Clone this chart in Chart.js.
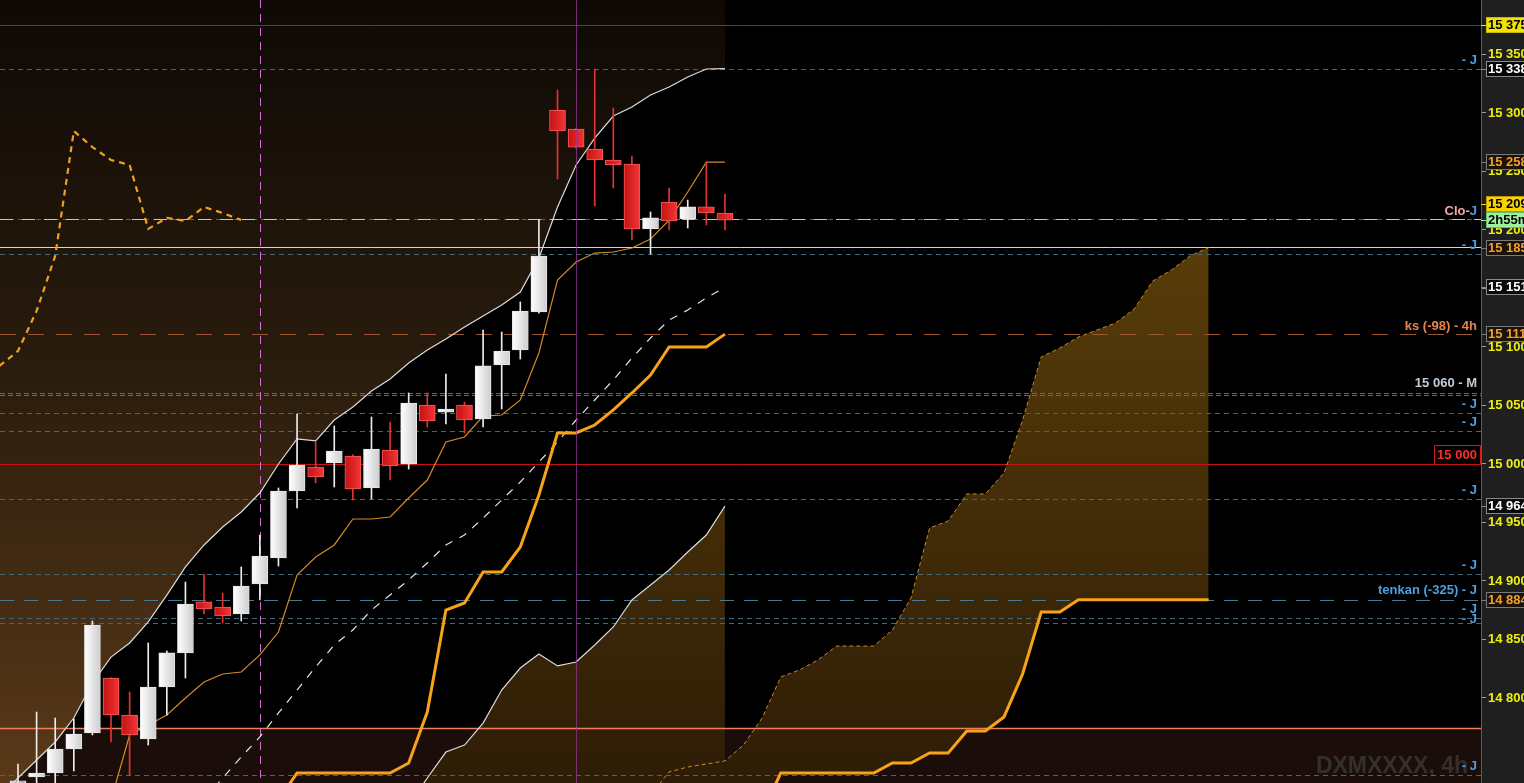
<!DOCTYPE html>
<html><head><meta charset="utf-8">
<style>html,body{margin:0;padding:0;background:#000;overflow:hidden}canvas{display:block}</style>
<script src="https://cdn.jsdelivr.net/npm/chart.js@4.4.1/dist/chart.umd.min.js"></script>
</head><body>
<canvas id="c" width="1524" height="783"></canvas>
<script>
// ---- candles (4h), index 0..38 ----
const opens  = [14727.4,14732.5,14735.9,14756.4,14770.1,14817.1,14785.5,14765.0,14809.4,14838.5,14882.1,14877.8,14871.8,14897.4,14919.7,14976.9,14997.4,15000.9,15006.8,14979.5,15012.0,15000.0,15050.4,15044.4,15050.4,15038.5,15084.6,15097.4,15129.9,15302.6,15286.3,15269.2,15259.8,15256.4,15200.9,15223.9,15209.4,15219.7,15214.5];
const highs  = [14743.6,14788.0,14782.9,14782.1,14865.8,14817.5,14805.1,14847.0,14840.2,14899.1,14906.0,14889.7,14912.0,14939.3,14979.5,15042.7,15018.8,15032.5,15008.0,15040.2,15035.9,15060.7,15060.7,15076.9,15053.0,15114.5,15112.8,15138.5,15208.5,15319.7,15287.0,15337.6,15304.3,15263.2,15215.4,15235.9,15225.6,15258.1,15230.8];
const lows   = [14715.0,14720.0,14725.0,14737.6,14768.4,14762.4,14734.2,14759.8,14785.5,14817.1,14871.8,14864.1,14865.8,14883.8,14912.8,14962.4,14983.8,14980.3,14969.2,14970.1,14986.3,14995.7,15031.6,15034.2,15026.5,15031.6,15047.0,15089.7,15129.0,15243.6,15270.0,15220.5,15235.9,15191.5,15179.5,15200.0,15201.7,15204.3,15200.0];
const closes = [14729.1,14735.9,14756.4,14769.2,14862.4,14785.5,14768.4,14809.4,14838.5,14880.3,14876.1,14870.1,14895.7,14921.4,14976.9,14999.1,14988.9,15011.1,14978.6,15012.8,14998.3,15052.1,15036.8,15047.0,15037.6,15083.8,15096.6,15130.8,15177.8,15284.6,15270.9,15259.8,15255.6,15200.9,15210.3,15207.7,15219.7,15214.5,15208.5];

// ---- indicator series (start index, values) ----
const upperStart = -1;
const upperBand = [14715.4,14731.6,14747.0,14762.4,14782.9,14812.8,14835.0,14847.0,14865.0,14888.0,14912.0,14930.8,14946.2,14959.0,14975.2,15000.0,15021.4,15019.7,15037.6,15048.7,15062.4,15072.6,15086.3,15097.4,15106.8,15117.1,15126.5,15135.9,15147.0,15176.1,15219.7,15255.6,15278.6,15297.4,15305.1,15315.4,15322.2,15330.8,15337.6,15338.0];
const midStart = 10;
const midBand = [14712.8,14731.6,14749.6,14766.7,14787.2,14806.8,14826.5,14845.3,14858.1,14875.2,14888.0,14900.9,14915.4,14930.8,14939.3,14953.8,14969.2,14984.6,15001.7,15018.8,15037.6,15054.7,15071.8,15090.6,15107.7,15123.1,15131.6,15141.9,15151.0];
const lowerStart = 21;
const lowerBand = [14708.5,14731.6,14753.8,14759.8,14778.6,14806.8,14825.6,14837.6,14827.4,14830.8,14845.3,14860.7,14883.8,14896.6,14909.4,14924.8,14939.3,14964.0];
const kijunStart = 14;
const kijun = [14712.8,14735.9,14735.9,14735.9,14735.9,14735.9,14735.9,14744.4,14788.0,14875.2,14881.2,14907.7,14907.7,14929.1,14973.5,15026.5,15026.5,15033.3,15046.2,15060.7,15076.1,15100.0,15100.0,15100.0,15111.0];
const tenkanStart = 5;
const tenkan = [14712.8,14768.4,14776.9,14785.5,14800.0,14813.7,14820.5,14822.2,14836.8,14856.4,14905.1,14920.5,14930.8,14953.0,14953.0,14954.7,14970.9,14986.3,15018.8,15023.1,15041.0,15041.9,15054.7,15094.9,15157.3,15172.6,15180.3,15181.2,15184.6,15192.3,15208.5,15232.5,15258.0,15258.0];
const spanStart = 34;
const spanA = [14717.1,14736.8,14741.0,14743.6,14746.2,14759.8,14782.9,14818.0,14823.9,14832.5,14844.4,14844.4,14844.4,14858.1,14885.5,14945.3,14951.3,14974.4,14974.4,14992.3,15037.6,15091.5,15099.1,15108.5,15114.5,15120.5,15132.5,15156.4,15165.8,15177.8,15185.0];
const spanB = [14680,14680,14680,14680,14680,14685,14701.7,14735.9,14735.9,14735.9,14735.9,14735.9,14735.9,14744.4,14744.4,14753.0,14753.0,14771.8,14771.8,14783.8,14820.5,14873.5,14873.5,14884,14884,14884,14884,14884,14884,14884,14884];
const chikouShift = 26;

// ---- levels ----
const jLevels = [15337.6, 15209.1, 15179.2, 15043.3, 15027.9, 14969.8, 14906.0, 14868.1, 14863.8, 14734.2];
const mLevels = [15060.9, 15059.0];
const closeLevel = 15209.1;
const whiteLevel = 15185.7;
const ksLevel = 15111;
const tenkanLevel = 14884;
const roundLevel = 15000;
const purpleLevel = 15375;
const zoneLevel = 14774.1;
const vLines = [13, 30];
const yTicks = [15400,15350,15300,15250,15200,15150,15100,15050,15000,14950,14900,14850,14800];
const axisMarks = [15375, 15338, 15258, 15185, 15151, 15111, 14964, 14884];
const countdown = '2h55m';
const watermark = 'DXMXXXX, 4h';

const X_MIN = -0.9675, X_MAX = 78.64, Y_MIN = 14727.35, Y_MAX = 15396.58;
const FONT = '"Liberation Sans", Arial, sans-serif';
const fmt = v => { const s = String(Math.round(v)); return s.slice(0, -3) + ' ' + s.slice(-3); };
const series = (start, arr) => arr.map((v, k) => ({x: start + k, y: v}));

const canvas = document.getElementById('c');
const g2 = canvas.getContext('2d');
const gradTop = g2.createLinearGradient(0, 0, 0, 783);
gradTop.addColorStop(0, 'rgb(14,9,5)');
gradTop.addColorStop(0.45, 'rgb(40,27,13)');
gradTop.addColorStop(1, 'rgb(90,57,24)');
const gradCloud = () => { const g = g2.createLinearGradient(0, 240, 0, 783); g.addColorStop(0, 'rgb(88,60,10)'); g.addColorStop(1, 'rgb(46,29,6)'); return g; };

const idx = opens.map((_, i) => i);
const isUp = i => closes[i] >= opens[i];

const bodyColor = ctx => {
  if (ctx.type !== 'data') return '#eee';
  const i = ctx.dataIndex, up = isUp(i);
  const xs = ctx.chart.scales && ctx.chart.scales.x;
  const px = xs ? xs.getPixelForValue(i) : NaN;
  if (!isFinite(px)) return up ? '#eee' : '#e02020';
  const g = ctx.chart.ctx.createLinearGradient(px - 8, 0, px + 8, 0);
  if (up) { g.addColorStop(0, '#ffffff'); g.addColorStop(1, '#cdcdcd'); }
  else { g.addColorStop(0, '#c41212'); g.addColorStop(1, '#f23636'); }
  return g;
};

const plugin = {
  id: 'deco',
  beforeDraw(chart) {
    const c = chart.ctx, a = chart.chartArea, y = chart.scales.y;
    c.save();
    c.fillStyle = '#000'; c.fillRect(0, 0, chart.width, chart.height);
    c.fillStyle = '#1f1f1f'; c.fillRect(a.right, 0, chart.width - a.right, chart.height);
    const zy = y.getPixelForValue(zoneLevel);
    c.fillStyle = '#1b0e0a'; c.fillRect(a.left, zy, a.right - a.left, a.bottom - zy);
    c.restore();
  },
  beforeDatasetsDraw(chart) {
    const c = chart.ctx, a = chart.chartArea, y = chart.scales.y, x = chart.scales.x;
    const hl = (v, color, w, dash) => {
      const py = Math.round(y.getPixelForValue(v)) + 0.5;
      c.save(); c.strokeStyle = color; c.lineWidth = w; c.setLineDash(dash || []);
      c.beginPath(); c.moveTo(a.left, py); c.lineTo(a.right, py); c.stroke(); c.restore();
    };
    c.save();
    c.beginPath(); c.rect(a.left, a.top, a.right - a.left, a.bottom - a.top); c.clip();
    c.font = 'bold 23px ' + FONT; c.fillStyle = '#33302d'; c.textAlign = 'right'; c.textBaseline = 'alphabetic';
    c.fillText(watermark, 1468, 773);
    hl(purpleLevel, '#6e2c6e', 1);
    jLevels.forEach(v => hl(v, '#41687b', 1, [5, 4]));
    mLevels.forEach(v => hl(v, '#4a6f82', 1, [5, 3]));
    hl(tenkanLevel, '#4a7892', 1, [14, 10]);
    hl(ksLevel, '#9a5732', 1, [16, 12]);
    hl(closeLevel, '#e6b6c0', 1, [13, 9]);
    hl(whiteLevel, '#d4d4d4', 1);
    hl(roundLevel, '#c81212', 1);
    hl(zoneLevel, '#ef8058', 1.5);
    const vx = Math.round(x.getPixelForValue(vLines[0])) + 0.5;
    c.strokeStyle = '#d46fd4'; c.lineWidth = 1; c.setLineDash([8, 6]);
    c.beginPath(); c.moveTo(vx, a.top); c.lineTo(vx, a.bottom); c.stroke();
    c.restore();
  },
  afterDatasetsDraw(chart) {
    const c = chart.ctx, a = chart.chartArea, x = chart.scales.x;
    const vx = Math.round(x.getPixelForValue(vLines[1])) + 0.5;
    c.save(); c.strokeStyle = 'rgba(150,55,150,0.75)'; c.lineWidth = 1;
    c.beginPath(); c.moveTo(vx, a.top); c.lineTo(vx, a.bottom); c.stroke(); c.restore();
  },
  afterDraw(chart) {
    const c = chart.ctx, a = chart.chartArea, y = chart.scales.y;
    const R = a.right - 4;
    c.save();
    c.font = 'bold 13px ' + FONT; c.textBaseline = 'middle'; c.textAlign = 'right';
    const lab = (v, txt, color, dy) => { c.fillStyle = color; c.fillText(txt, R, y.getPixelForValue(v) - (dy || 9)); };
    jLevels.forEach((v, k) => {
      if (v === closeLevel) return;
      lab(v, '- J', '#4a9fe2', k === jLevels.length - 2 ? 4 : 9);
    });
    const cy = y.getPixelForValue(closeLevel) - 8;
    c.fillStyle = '#4a9fe2'; c.fillText('J', R, cy);
    const jw = c.measureText('J').width;
    c.fillStyle = '#f0a4aa'; c.fillText('Clo-', R - jw, cy);
    lab(mLevels[0], fmt(mLevels[0] - 1) + ' - M', '#c2ccd6', 9);
    lab(ksLevel, 'ks (-98) - 4h', '#e6844a', 8);
    lab(tenkanLevel, 'tenkan (-325) - J', '#4a9fe2', 9);
    const ry = Math.round(y.getPixelForValue(roundLevel));
    c.strokeStyle = '#d81818'; c.lineWidth = 1;
    c.beginPath(); c.moveTo(1434.5, ry); c.lineTo(1434.5, ry - 18.5); c.lineTo(a.right - 0.5, ry - 18.5); c.lineTo(a.right - 0.5, ry); c.stroke();
    c.fillStyle = '#ff2a2a'; c.textAlign = 'center'; c.fillText(fmt(roundLevel), 1457, ry - 9);
    c.font = 'bold 13px ' + FONT; c.textAlign = 'left';
    const box = (cyy, txt, bg, fg, border) => {
      const top = Math.round(cyy) - 7.5;
      c.fillStyle = bg; c.fillRect(a.right + 5, top, 60, 15);
      c.strokeStyle = border; c.lineWidth = 1; c.strokeRect(a.right + 5.5, top, 60, 15);
      c.strokeStyle = fg === '#000' ? bg : border; c.beginPath(); c.moveTo(a.right, Math.round(cyy) + 0.5); c.lineTo(a.right + 5, Math.round(cyy) + 0.5); c.stroke();
      c.fillStyle = fg; c.fillText(txt, a.right + 7, top + 8);
    };
    const styles = [
      ['#f2e200', '#000', '#c8b800'],
      ['#050505', '#ffffff', '#8a8a8a'],
      ['#1c1208', '#f0a030', '#7a7a7a'],
      ['#1c1208', '#f0a030', '#7a7a7a'],
      ['#0a0a0a', '#ffffff', '#8a8a8a'],
      ['#1c1208', '#f0a030', '#7a7a7a'],
      ['#0a0a0a', '#ffffff', '#8a8a8a'],
      ['#1c1208', '#f0a030', '#7a7a7a']
    ];
    axisMarks.forEach((v, k) => box(y.getPixelForValue(v), fmt(v), styles[k][0], styles[k][1], styles[k][2]));
    const last = closes[closes.length - 1];
    const ly = y.getPixelForValue(last);
    box(ly - 16, fmt(last), '#f7d400', '#000', '#b89a00');
    box(ly, countdown, '#9ef09e', '#000', '#6ab86a');
    c.restore();
  }
};

new Chart(canvas, {
  type: 'bar',
  data: {
    datasets: [
      { type: 'line', label: 'upper', data: series(upperStart, upperBand), borderColor: '#dcdcdc', borderWidth: 1.2, pointRadius: 0, fill: 'end', backgroundColor: gradTop, order: 30 },
      { type: 'line', label: 'lower', data: series(lowerStart, lowerBand), borderColor: '#dcdcdc', borderWidth: 1.2, pointRadius: 0, fill: 'start', backgroundColor: gradCloud(), order: 30 },
      { type: 'line', label: 'spanB', data: series(spanStart, spanB), borderColor: '#f7a21b', borderWidth: 3, pointRadius: 0, fill: false, order: 12 },
      { type: 'line', label: 'spanA', data: series(spanStart, spanA), borderColor: '#c88a2a', borderWidth: 1, borderDash: [4, 3], pointRadius: 0, fill: 2, backgroundColor: gradCloud(), order: 29 },
      { type: 'line', label: 'mid', data: series(midStart, midBand), borderColor: '#e4e4e4', borderWidth: 1.2, borderDash: [8, 8], pointRadius: 0, fill: false, order: 11 },
      { type: 'line', label: 'tenkan', data: series(tenkanStart, tenkan), borderColor: '#d48a26', borderWidth: 1.2, pointRadius: 0, fill: false, order: 11 },
      { type: 'line', label: 'kijun', data: series(kijunStart, kijun), borderColor: '#f7a21b', borderWidth: 3, pointRadius: 0, fill: false, order: 10 },
      { type: 'line', label: 'chikou', data: closes.map((v, i) => ({x: i - chikouShift, y: v})), borderColor: '#f0a020', borderWidth: 2.2, borderDash: [6, 5], pointRadius: 0, fill: false, order: 10 },
      { label: 'wick', data: idx.map(i => ({x: i, y: [lows[i], highs[i]]})), backgroundColor: ctx => (ctx.type === 'data' && !isUp(ctx.dataIndex)) ? '#e43232' : '#ececec', barThickness: 1, grouped: false, borderWidth: 0, order: 2 },
      { label: 'body', data: idx.map(i => ({x: i, y: [opens[i], closes[i]]})), backgroundColor: bodyColor, borderColor: ctx => (ctx.type === 'data' && !isUp(ctx.dataIndex)) ? '#f65a5a' : '#e6e6e6', borderWidth: 1, borderSkipped: false, barThickness: 16, grouped: false, order: 1 }
    ]
  },
  options: {
    responsive: false,
    animation: false,
    events: [],
    layout: { padding: 0 },
    plugins: { legend: { display: false }, tooltip: { enabled: false }, filler: { drawTime: 'beforeDatasetsDraw', propagate: false } },
    scales: {
      x: { type: 'linear', display: false, min: X_MIN, max: X_MAX, offset: false },
      y: {
        type: 'linear', position: 'right', min: Y_MIN, max: Y_MAX,
        afterFit: s => { s.width = 43; s.paddingTop = 0; s.paddingBottom = 0; },
        afterBuildTicks: s => { s.ticks = yTicks.map(v => ({value: v})); },
        ticks: { color: '#eeee10', font: { family: FONT, size: 13, weight: 'bold' }, padding: 2, autoSkip: false, callback: v => fmt(v) },
        grid: { drawOnChartArea: false, drawTicks: true, tickLength: 5, color: '#9a9a9a' },
        border: { display: true, color: '#5c5c5c' }
      }
    }
  },
  plugins: [plugin]
});
</script>
</body></html>
